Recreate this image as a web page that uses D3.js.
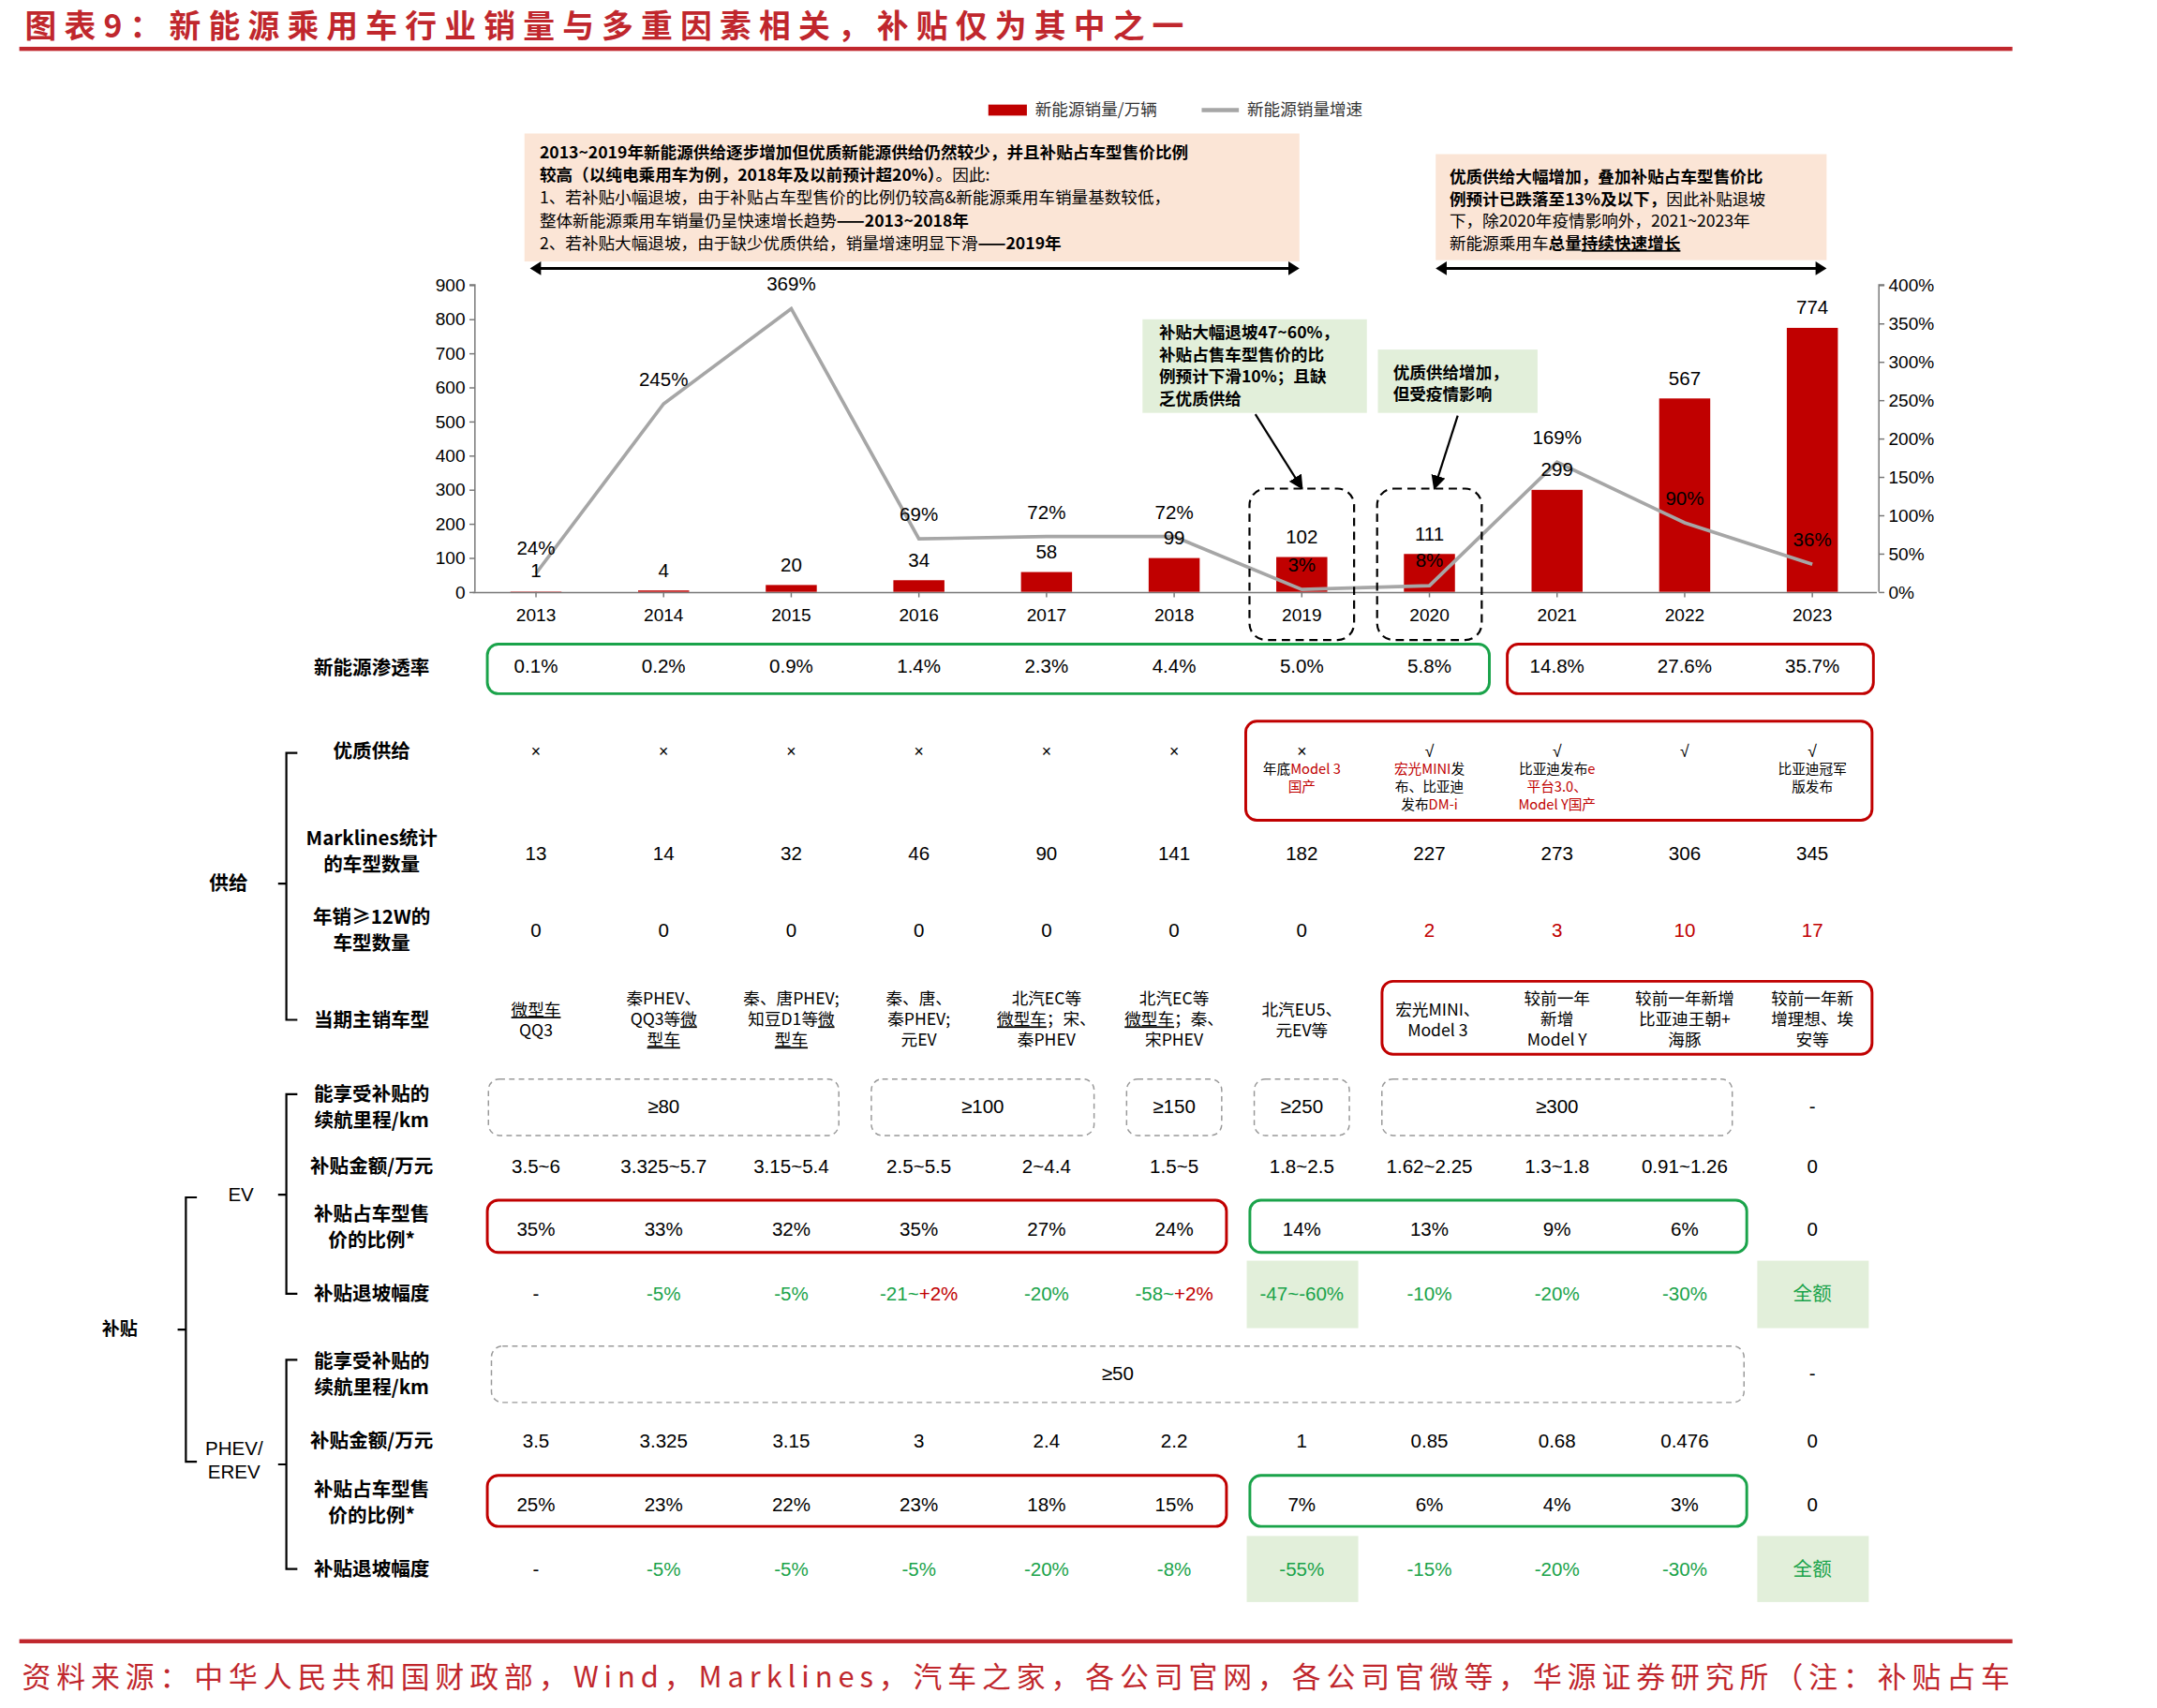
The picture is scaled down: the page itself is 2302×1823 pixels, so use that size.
<!DOCTYPE html>
<html>
<head>
<meta charset="utf-8">
<title>新能源乘用车销量与补贴</title>
<script src="https://d3js.org/d3.v7.min.js"></script>
<style>
  body { margin: 0; background: #fff; }
  text { font-family: "Liberation Sans", "Noto Sans CJK SC", sans-serif; }
  .cn { font-family: "Noto Sans CJK SC", sans-serif; }
</style>
</head>
<body>
<svg id="c" width="2302" height="1823" viewBox="0 0 1567 1241"></svg>
<script>
// ---- data ----
var years = ["2013","2014","2015","2016","2017","2018","2019","2020","2021","2022","2023"];
var sales = [1, 4, 20, 34, 58, 99, 102, 111, 299, 567, 774];           // 万辆
var growth = [24, 245, 369, 69, 72, 72, 3, 8, 169, 90, 36];             // %
var salesTicks = [0,100,200,300,400,500,600,700,800,900];
var growthTicks = [0,50,100,150,200,250,300,350,400];
var penetration = ["0.1%","0.2%","0.9%","1.4%","2.3%","4.4%","5.0%","5.8%","14.8%","27.6%","35.7%"];
var supplyMark = ["×","×","×","×","×","×","×","√","√","√","√"];
var modelCount = ["13","14","32","46","90","141","182","227","273","306","345"];
var bigModels = ["0","0","0","0","0","0","0","2","3","10","17"];
var evRange = [["≥80",0,2],["≥100",3,4],["≥150",5,5],["≥250",6,6],["≥300",7,9]];
var evAmount = ["3.5~6","3.325~5.7","3.15~5.4","2.5~5.5","2~4.4","1.5~5","1.8~2.5","1.62~2.25","1.3~1.8","0.91~1.26","0"];
var evRatio = ["35%","33%","32%","35%","27%","24%","14%","13%","9%","6%","0"];
var evDecline = ["-","-5%","-5%","-21~|+2%","-20%","-58~|+2%","-47~-60%","-10%","-20%","-30%","全额"];
var phevAmount = ["3.5","3.325","3.15","3","2.4","2.2","1","0.85","0.68","0.476","0"];
var phevRatio = ["25%","23%","22%","23%","18%","15%","7%","6%","4%","3%","0"];
var phevDecline = ["-","-5%","-5%","-5%","-20%","-8%","-55%","-15%","-20%","-30%","全额"];

var RED = "#c00000", GRN = "#1aa34a", BAR = "#c00000";
var svg = d3.select("#c");

// ---- title ----
svg.append("text").attr("class","cn").attr("x",18).attr("y",27).attr("font-size",23).attr("font-weight","bold")
  .attr("textLength",842).attr("lengthAdjust","spacing")
  .attr("fill","#c0272d").text("图表9：新能源乘用车行业销量与多重因素相关，补贴仅为其中之一");
svg.append("rect").attr("x",14).attr("y",34).attr("width",1448).attr("height",3).attr("fill","#c0272d");
svg.append("rect").attr("x",14).attr("y",1191).attr("width",1448).attr("height",3).attr("fill","#c0272d");
svg.append("text").attr("class","cn").attr("x",16).attr("y",1226).attr("font-size",21)
  .attr("textLength",1444).attr("lengthAdjust","spacing")
  .attr("fill","#c0272d").text("资料来源：中华人民共和国财政部，Wind，Marklines，汽车之家，各公司官网，各公司官微等，华源证券研究所（注：补贴占车");

// ---- legend ----
svg.append("rect").attr("x",718).attr("y",76).attr("width",28).attr("height",8).attr("fill",BAR);
svg.append("text").attr("class","cn").attr("x",752).attr("y",84).attr("font-size",12).attr("fill","#333").text("新能源销量/万辆");
svg.append("line").attr("x1",873).attr("x2",900).attr("y1",80).attr("y2",80).attr("stroke","#a6a6a6").attr("stroke-width",3);
svg.append("text").attr("class","cn").attr("x",906).attr("y",84).attr("font-size",12).attr("fill","#333").text("新能源销量增速");

// ---- helper: multi-segment lines ----
function rich(g, x, y, lines, opt) {
  var t = g.append("text").attr("class","cn").attr("x",x).attr("y",y)
    .attr("font-size",opt.size).attr("text-anchor",opt.anchor || "start")
    .attr("font-weight",opt.weight || "normal").attr("fill",opt.fill || "#000");
  lines.forEach(function(line, i) {
    line.forEach(function(seg, j) {
      var s = t.append("tspan").text(seg[0]);
      if (j === 0) s.attr("x",x).attr("dy", i === 0 ? 0 : opt.lh);
      if (seg[1] === "b") s.attr("font-weight","bold");
      if (seg[1] === "u") s.attr("text-decoration","underline");
      if (seg[1] === "r") s.attr("fill",RED);
      if (seg[1] === "bu") s.attr("font-weight","bold").attr("text-decoration","underline");
    });
  });
  return t;
}
function arrowH(x1, x2, y) {
  svg.append("line").attr("x1",x1+6).attr("x2",x2-6).attr("y1",y).attr("y2",y).attr("stroke","#000").attr("stroke-width",2);
  svg.append("path").attr("d","M"+x1+","+y+" l8,-5 l0,10 z");
  svg.append("path").attr("d","M"+x2+","+y+" l-8,-5 l0,10 z");
}

// ---- annotation boxes ----
svg.append("rect").attr("x",381).attr("y",97).attr("width",563).attr("height",93).attr("fill","#fbe5d6");
rich(svg, 392, 115, [
  [["2013~2019年新能源供给逐步增加但优质新能源供给仍然较少，并且补贴占车型售价比例","b"]],
  [["较高（以纯电乘用车为例，2018年及以前预计超20%）","b"],["。因此:"]],
  [["1、若补贴小幅退坡，由于补贴占车型售价的比例仍较高&新能源乘用车销量基数较低，"]],
  [["整体新能源乘用车销量仍呈快速增长趋势"],["——2013~2018年","b"]],
  [["2、若补贴大幅退坡，由于缺少优质供给，销量增速明显下滑"],["——2019年","b"]]
], {size:12, lh:16.5});
arrowH(385, 944, 195);
svg.append("rect").attr("x",1043).attr("y",112).attr("width",284).attr("height",77).attr("fill","#fbe5d6");
rich(svg, 1053, 133, [
  [["优质供给大幅增加，叠加补贴占车型售价比","b"]],
  [["例预计已跌落至13%及以下，","b"],["因此补贴退坡"]],
  [["下，除2020年疫情影响外，2021~2023年"]],
  [["新能源乘用车"],["总量","b"],["持续快速增长","bu"]]
], {size:12, lh:16});
arrowH(1043, 1327, 195);

// ---- chart ----
var x = d3.scaleBand().domain(years).range([343,1363]).paddingInner(0.6).paddingOuter(0.3);
var cx = function(d){ return x(d) + x.bandwidth()/2; };
var yL = d3.scaleLinear().domain([0,900]).range([430,207]);
var yR = d3.scaleLinear().domain([0,400]).range([430,207]);

var gl = svg.append("g").attr("transform","translate(345,0)")
  .call(d3.axisLeft(yL).tickValues(salesTicks).tickSize(4).tickSizeOuter(0));
var gr = svg.append("g").attr("transform","translate(1365,0)")
  .call(d3.axisRight(yR).tickValues(growthTicks).tickSize(4).tickSizeOuter(0).tickFormat(function(d){return d+"%";}));
var gx = svg.append("g").attr("transform","translate(0,430)")
  .call(d3.axisBottom(x.copy().paddingInner(0).paddingOuter(0)).tickSize(4).tickSizeOuter(0).tickPadding(8));
[gl,gr,gx].forEach(function(g){
  g.selectAll("path,line").attr("stroke","#777");
  g.selectAll("text").attr("font-size",13).attr("fill","#000");
});
gl.select(".domain").attr("d","M-4,207H0V430");
gr.select(".domain").attr("d","M4,207H0V430");

svg.selectAll(".bar").data(sales).enter().append("rect")
  .attr("x",function(d,i){return x(years[i]);}).attr("width",x.bandwidth())
  .attr("y",function(d){return yL(d);}).attr("height",function(d){return 430 - yL(d);})
  .attr("fill",BAR);

svg.append("path").datum(growth)
  .attr("d", d3.line().x(function(d,i){return cx(years[i]);}).y(function(d){return yR(d);}))
  .attr("fill","none").attr("stroke","#a6a6a6").attr("stroke-width",2.5);

svg.selectAll(".bl").data(sales).enter().append("text")
  .attr("x",function(d,i){return cx(years[i]);}).attr("y",function(d){return Math.min(yL(d)-10, 419);})
  .attr("text-anchor","middle").attr("font-size",14).text(function(d){return d;});
svg.selectAll(".gl").data(growth).enter().append("text")
  .attr("x",function(d,i){return cx(years[i]);})
  .attr("y",function(d,i){ return (i===0) ? 403 : (i===6||i===7) ? 415 - (i-6)*3 : yR(d)-13;})
  .attr("text-anchor","middle").attr("font-size",14).attr("fill","#000").text(function(d){return d+"%";});

// callouts
svg.append("rect").attr("x",830).attr("y",232).attr("width",163).attr("height",68).attr("fill","#e2efda");
rich(svg, 842, 246, [[["补贴大幅退坡47~60%，","b"]],[["补贴占售车型售价的比","b"]],[["例预计下滑10%；且缺","b"]],[["乏优质供给","b"]]], {size:12, lh:16});
svg.append("rect").attr("x",1001).attr("y",254).attr("width",116).attr("height",46).attr("fill","#e2efda");
rich(svg, 1012, 275, [[["优质供给增加，","b"]],[["但受疫情影响","b"]]], {size:12, lh:16});
svg.append("defs").append("marker").attr("id","ah").attr("viewBox","0 0 10 10").attr("refX",9).attr("refY",5)
  .attr("markerWidth",7).attr("markerHeight",7).attr("orient","auto").append("path").attr("d","M0,0 L10,5 L0,10 z");
svg.append("line").attr("x1",912).attr("y1",301).attr("x2",946).attr("y2",355).attr("stroke","#000").attr("stroke-width",1.5).attr("marker-end","url(#ah)");
svg.append("line").attr("x1",1059).attr("y1",302).attr("x2",1042).attr("y2",355).attr("stroke","#000").attr("stroke-width",1.5).attr("marker-end","url(#ah)");
["2019","2020"].forEach(function(yy){
  svg.append("rect").attr("x",cx(yy)-38).attr("y",355).attr("width",76).attr("height",110).attr("rx",12)
    .attr("fill","none").attr("stroke","#000").attr("stroke-width",1.5).attr("stroke-dasharray","6,4");
});

// ---- table helpers ----
function label(y, lines) {
  rich(svg, 270, y, lines.map(function(l){return [[l,"b"]];}), {size: 14, anchor:"middle", lh:19});
}
function row(y, vals, colorFn, fs) {
  vals.forEach(function(v,i){
    var parts = String(v).split("|");
    var t = svg.append("text").attr("x",cx(years[i])).attr("y",y).attr("text-anchor","middle").attr("font-size",fs||14);
    if (/[\u4e00-\u9fa5]/.test(v)) t.attr("class","cn");
    parts.forEach(function(p,k){
      t.append("tspan").text(p).attr("fill", k>0 ? RED : colorFn(v,i));
    });
  });
}
function box(x0, x1, y0, y1, col, dash) {
  svg.append("rect").attr("x",x0).attr("y",y0).attr("width",x1-x0).attr("height",y1-y0).attr("rx",8)
    .attr("fill","none").attr("stroke",col).attr("stroke-width",dash?1:2).attr("stroke-dasharray",dash?"4,3":null);
}
function bg(i, y0, y1) {
  svg.append("rect").attr("x",cx(years[i])-40).attr("y",y0).attr("width",81).attr("height",y1-y0).attr("fill","#e2efda");
}
function brace(xb, y0, y1, ym) {
  svg.append("path").attr("d","M"+(xb+8)+","+y0+" H"+xb+" V"+y1+" H"+(xb+8)+" M"+(xb-6)+","+ym+" H"+xb)
    .attr("fill","none").attr("stroke","#000").attr("stroke-width",1.5);
}
var black = function(){return "#000";};

// penetration
label(490, ["新能源渗透率"]);
box(354, 1082, 468, 504, GRN); box(1095, 1361, 468, 504, RED);
row(489, penetration, black);

// supply
label(551, ["优质供给"]);
box(905, 1360, 524, 596, RED);
row(550, supplyMark, black, 12);
var supplyNotes = [null,null,null,null,null,null,
  [[["年底"],["Model 3","r"]],[["国产","r"]]],
  [[["宏光MINI","r"],["发"]],[["布、比亚迪"]],[["发布"],["DM-i","r"]]],
  [[["比亚迪发布"],["e","r"]],[["平台3.0、","r"]],[["Model Y国产","r"]]],
  null,
  [[["比亚迪冠军"]],[["版发布"]]]];
supplyNotes.forEach(function(n,i){ if(n) rich(svg, cx(years[i]), 562, n, {size:10, anchor:"middle", lh:13}); });

label(614, ["Marklines统计","的车型数量"]);
row(625, modelCount, black);
label(671, ["年销≥12W的","车型数量"]);
row(681, bigModels, function(v,i){ return i>=7 ? RED : "#000"; });

label(746, ["当期主销车型"]);
box(1004, 1360, 713, 766, RED);
var mainModels = [
  [[["微型车","u"]],[["QQ3"]]],
  [[["秦PHEV、"]],[["QQ3等"],["微","u"]],[["型车","u"]]],
  [[["秦、唐PHEV;"]],[["知豆D1等"],["微","u"]],[["型车","u"]]],
  [[["秦、唐、"]],[["秦PHEV;"]],[["元EV"]]],
  [[["北汽EC等"]],[["微型车","u"],["；宋、"]],[["秦PHEV"]]],
  [[["北汽EC等"]],[["微型车","u"],["；秦、"]],[["宋PHEV"]]],
  [[["北汽EU5、"]],[["元EV等"]]],
  [[["宏光MINI、"]],[["Model 3"]]],
  [[["较前一年"]],[["新增"]],[["Model Y"]]],
  [[["较前一年新增"]],[["比亚迪王朝+"]],[["海豚"]]],
  [[["较前一年新"]],[["增理想、埃"]],[["安等"]]]];
mainModels.forEach(function(m,i){
  rich(svg, cx(years[i]) + (i===7 ? 6 : 0), m.length===2 ? 738 : 730, m, {size:12, anchor:"middle", lh:15});
});
svg.append("text").attr("class","cn").attr("x",166).attr("y",647).attr("text-anchor","middle").attr("font-size",14).attr("font-weight","bold").text("供给");
brace(208, 547, 741, 642);

// EV subsidies
label(800, ["能享受补贴的","续航里程/km"]);
evRange.forEach(function(r){
  var x0 = x(years[r[1]]) - 22, x1 = x(years[r[2]]) + x.bandwidth() + 22;
  box(x0 + 6, x1 - 6, 784, 825, "#999", true);
  svg.append("text").attr("x",(x0+x1)/2).attr("y",809).attr("text-anchor","middle").attr("font-size",14).text(r[0]);
});
svg.append("text").attr("x",cx("2023")).attr("y",809).attr("text-anchor","middle").attr("font-size",14).text("-");
label(852, ["补贴金额/万元"]);
row(852, evAmount, black);
label(887, ["补贴占车型售","价的比例*"]);
box(354, 891, 872, 910, RED); box(908, 1269, 872, 910, GRN);
row(898, evRatio, black);
bg(6, 916, 965); bg(10, 916, 965);
label(945, ["补贴退坡幅度"]);
row(945, evDecline, function(v){ return v==="-" ? "#000" : GRN; });
svg.append("text").attr("x",175).attr("y",873).attr("text-anchor","middle").attr("font-size",14).text("EV");
brace(208, 795, 940, 868);

// PHEV subsidies
label(994, ["能享受补贴的","续航里程/km"]);
box(357, 1267, 978, 1019, "#999", true);
svg.append("text").attr("x",812).attr("y",1003).attr("text-anchor","middle").attr("font-size",14).text("≥50");
svg.append("text").attr("x",cx("2023")).attr("y",1003).attr("text-anchor","middle").attr("font-size",14).text("-");
label(1052, ["补贴金额/万元"]);
row(1052, phevAmount, black);
label(1087, ["补贴占车型售","价的比例*"]);
box(354, 891, 1072, 1109, RED); box(908, 1269, 1072, 1109, GRN);
row(1098, phevRatio, black);
bg(6, 1116, 1164); bg(10, 1116, 1164);
label(1145, ["补贴退坡幅度"]);
row(1145, phevDecline, function(v){ return v==="-" ? "#000" : GRN; });
svg.append("text").attr("x",170).attr("y",1057).attr("text-anchor","middle").attr("font-size",14).text("PHEV/");
svg.append("text").attr("x",170).attr("y",1074).attr("text-anchor","middle").attr("font-size",14).text("EREV");
brace(208, 988, 1140, 1064);

svg.append("text").attr("class","cn").attr("x",87).attr("y",970).attr("text-anchor","middle").attr("font-size",13).attr("font-weight","bold").text("补贴");
brace(135, 870, 1062, 966);
</script>
</body>
</html>
